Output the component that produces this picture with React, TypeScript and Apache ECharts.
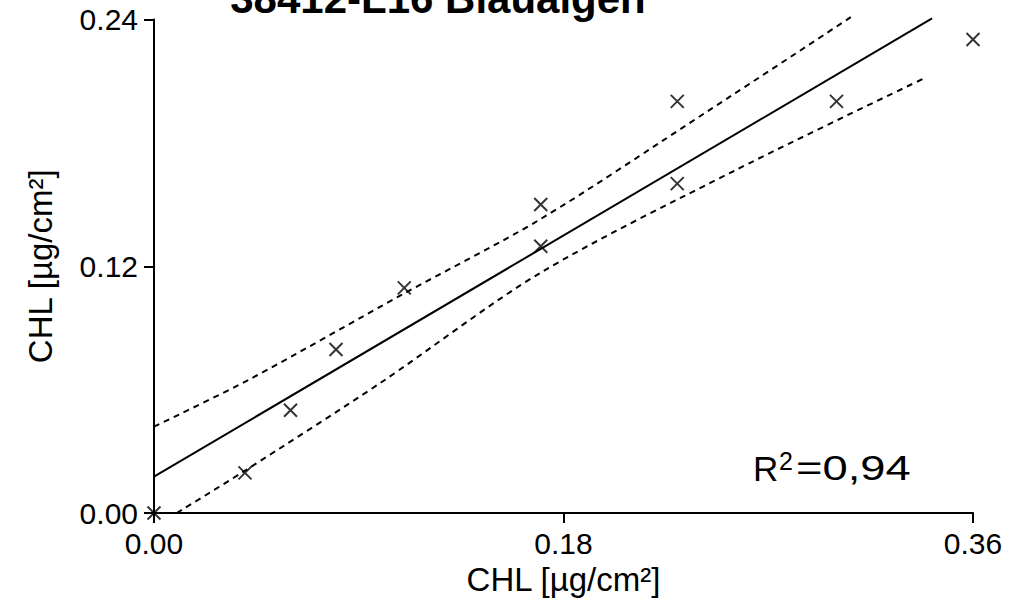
import React, { useEffect, useRef } from "react";
import * as echarts from "echarts";

const TITLE = "38412-L16 Blaualgen";
const AXIS_NAME = "CHL [µg/cm²]";
const R2_TEXT = "=0,94";

const xTicks = [0, 0.18, 0.36];
const yTicks = [0, 0.12, 0.24];

const pointX = [0, 0.04, 0.06, 0.08, 0.11, 0.17, 0.17, 0.23, 0.23, 0.3, 0.36];
const pointY = [0, 0.0195, 0.05, 0.0795, 0.1095, 0.15, 0.1297, 0.2002, 0.1602, 0.2002, 0.2303];

const fitX = [0, 0.342];
const fitY = [0.0177, 0.2405];

const upperX = [0, 0.042, 0.1095, 0.1697, 0.2431, 0.3068];
const upperY = [0.042, 0.065, 0.1065, 0.1428, 0.1952, 0.2415];

const lowerX = [0.01, 0.0393, 0.0993, 0.1697, 0.2561, 0.3389];
const lowerY = [0, 0.0201, 0.0631, 0.1167, 0.167, 0.2116];

const FONT = "'Liberation Sans', Arial, sans-serif";

const zip = (a: number[], b: number[]) => a.map((v, i) => [v, b[i]]);

export default function App() {
  const ref = useRef<HTMLDivElement>(null);
  useEffect(() => {
    if (!ref.current) return;
    const chart = echarts.init(ref.current, null, { renderer: "svg" });
    const axisCommon = {
      axisLine: { show: true, lineStyle: { color: "#000", width: 2 } },
      axisTick: { show: true, length: 10, inside: false, lineStyle: { color: "#000", width: 2 } },
      splitLine: { show: false },
      nameLocation: "middle" as const,
      nameTextStyle: { color: "#000", fontSize: 33, fontFamily: FONT },
    };
    chart.setOption({
      animation: false,
      backgroundColor: "#fff",
      grid: {
        left: 154,
        right: 48,
        top: 19.5,
        bottom: 90,
        containLabel: false,
        outerBoundsMode: "none",
      },
      xAxis: {
        type: "value",
        min: xTicks[0],
        max: xTicks[xTicks.length - 1],
        interval: xTicks[1] - xTicks[0],
        name: AXIS_NAME,
        nameGap: 46,
        ...axisCommon,
        axisLabel: {
          color: "#000",
          fontSize: 30,
          fontFamily: FONT,
          margin: 15,
          formatter: (v: number) => v.toFixed(2),
        },
      },
      yAxis: {
        type: "value",
        min: yTicks[0],
        max: yTicks[yTicks.length - 1],
        interval: yTicks[1] - yTicks[0],
        name: AXIS_NAME,
        nameGap: 97,
        nameRotate: 90,
        ...axisCommon,
        axisLabel: {
          color: "#000",
          fontSize: 30,
          fontFamily: FONT,
          margin: 16,
          padding: [8, 0, 0, 0],
          formatter: (v: number) => v.toFixed(2),
        },
      },
      series: [
        {
          type: "line",
          data: zip(fitX, fitY),
          showSymbol: false,
          symbol: "none",
          clip: false,
          lineStyle: { color: "#000", width: 2, type: "solid" },
        },
        {
          type: "line",
          data: zip(upperX, upperY),
          showSymbol: false,
          symbol: "none",
          smooth: 0.3,
          clip: false,
          lineStyle: { color: "#000", width: 2, type: [6, 5] },
        },
        {
          type: "line",
          data: zip(lowerX, lowerY),
          showSymbol: false,
          symbol: "none",
          smooth: 0.3,
          clip: false,
          lineStyle: { color: "#000", width: 2, type: [6, 5] },
        },
        {
          type: "scatter",
          data: zip(pointX, pointY),
          symbol: "path://M0,0L10,10M10,0L0,10",
          symbolSize: 13,
          clip: false,
          itemStyle: { color: "none", borderColor: "#000", borderWidth: 2 },
          z: 5,
        },
      ],
      graphic: [
        {
          type: "text",
          x: 438,
          y: -2,
          style: {
            text: TITLE,
            font: `bold 42px ${FONT}`,
            fill: "#000",
            textAlign: "center",
            textVerticalAlign: "middle",
          },
        },
        {
          type: "text",
          x: 753,
          y: 468,
          style: {
            text: "R",
            font: `35px ${FONT}`,
            fill: "#000",
            textAlign: "left",
            textVerticalAlign: "middle",
          },
        },
        {
          type: "text",
          x: 779,
          y: 461,
          style: {
            text: "2",
            font: `25px ${FONT}`,
            fill: "#000",
            textAlign: "left",
            textVerticalAlign: "middle",
          },
        },
        {
          type: "text",
          x: 796,
          y: 468,
          scaleX: 1.26,
          style: {
            text: R2_TEXT,
            font: `36px ${FONT}`,
            fill: "#000",
            textAlign: "left",
            textVerticalAlign: "middle",
          },
        },
      ],
    });
    return () => chart.dispose();
  }, []);
  return (
    <div
      ref={ref}
      style={{ position: "absolute", left: 0, top: 0, width: 1021, height: 603, overflow: "hidden" }}
    />
  );
}
